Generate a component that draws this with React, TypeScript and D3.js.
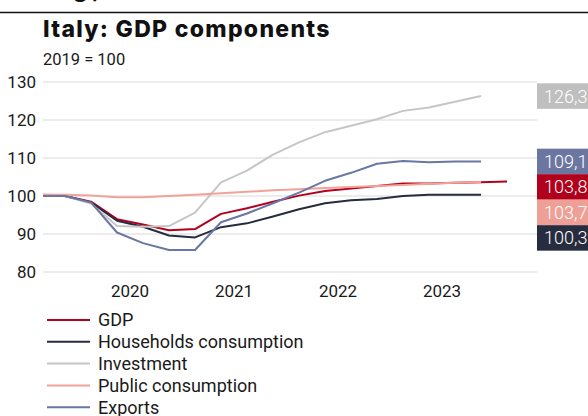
import React from "react";
import * as d3 from "d3";

const quarters = ["2019Q3","2019Q4","2020Q1","2020Q2","2020Q3","2020Q4","2021Q1","2021Q2","2021Q3","2021Q4","2022Q1","2022Q2","2022Q3","2022Q4","2023Q1","2023Q2","2023Q3","2023Q4","2024Q1"];
const yearTicks = ["2020", "2021", "2022", "2023"];
const yTicks = [80, 90, 100, 110, 120, 130];

const seriesNames = ["GDP", "Households consumption", "Investment", "Public consumption", "Exports"];
const gdp = [100, 100, 98.5, 93.9, 92.5, 91.0, 91.3, 95.3, 96.8, 98.5, 100.1, 101.3, 102.0, 102.6, 103.3, 103.3, 103.5, 103.6, 103.8];
const households = [100, 100, 98.3, 93.5, 91.9, 89.6, 89.1, 91.8, 92.8, 94.6, 96.5, 98.1, 98.9, 99.2, 100.0, 100.3, 100.3, 100.3];
const investment = [100, 100, 98.0, 92.1, 91.9, 92.1, 95.6, 103.6, 106.7, 110.9, 114.1, 116.8, 118.5, 120.2, 122.4, 123.3, 124.8, 126.3];
const publicCons = [100.4, 100.3, 100.1, 99.7, 99.7, 100.0, 100.3, 100.7, 101.1, 101.5, 101.8, 102.1, 102.4, 102.6, 102.9, 103.2, 103.5, 103.7];
const exportsS = [100, 100, 98.3, 90.4, 87.6, 85.8, 85.8, 93.1, 95.4, 98.1, 100.9, 104.0, 106.1, 108.5, 109.2, 108.9, 109.1, 109.1];

const lineColors = ["#b3001e", "#262b3f", "#c6c6c6", "#f2a399", "#6a76a3"];
const boxColors = ["#b0001c", "#272c3f", "#bfbfbf", "#eea097", "#6b76a1"];

const W = 588, H = 416;
const plotL = 43, plotR = 537;
const FONT = "Roboto, Lato, sans-serif";

export default function App() {
  const values = [gdp, households, investment, publicCons, exportsS];
  const x = d3.scaleLinear().domain([0, quarters.length - 1]).range([39, 507]);
  const y = d3.scaleLinear().domain([80, 130]).range([272, 82]);
  const line = d3.line<number>().x((_, i) => x(i)).y((d) => y(d));

  const yearPos = yearTicks.map((yr) => {
    const idx = quarters.map((q, i) => (q.startsWith(yr) ? i : -1)).filter((i) => i >= 0);
    return { yr, pos: x(d3.mean(idx) as number) };
  });

  const boxH = 25.5;
  const ends = values
    .map((v, k) => ({ k, v: v[v.length - 1] }))
    .sort((a, b) => b.v - a.v);
  let prevBottom = -Infinity;
  const labels = ends.map((e) => {
    let top = y(e.v) - boxH / 2;
    if (top < prevBottom) top = prevBottom;
    prevBottom = top + boxH;
    return { ...e, top };
  });
  const fmt = (v: number) => d3.format(".1f")(v).replace(".", ",");

  return (
    <svg width={W} height={H} style={{ position: "absolute", left: 0, top: 0, background: "#fff" }} fontFamily={FONT}>
      <defs>
        <clipPath id="plotclip">
          <rect x={plotL} y={0} width={plotR - plotL} height={H} />
        </clipPath>
      </defs>
      <text x={73} y={-3} fontFamily="Inter, sans-serif" fontWeight={800} fontSize={23} fill="#111">g</text>
      <text x={92} y={-3} fontFamily="Inter, sans-serif" fontWeight={800} fontSize={23} fill="#111">,</text>
      <line x1={0} x2={W} y1={12.5} y2={12.5} stroke="#111" strokeWidth={1.4} />
      <text x={43} y={37} fontFamily="Inter, sans-serif" fontWeight={800} fontSize={23} letterSpacing={1.3} fill="#111">Italy: GDP components</text>
      <text x={43} y={65} fontSize={16.5} fill="#1a1a1a">2019 = 100</text>

      {yTicks.map((t) => (
        <g key={t}>
          <line x1={plotL} x2={plotR} y1={y(t)} y2={y(t)} stroke="#d9d9d9" strokeWidth={1} />
          <text x={36} y={y(t)} dy="0.36em" textAnchor="end" fontSize={17} fill="#1a1a1a">{t}</text>
        </g>
      ))}
      {yearPos.map((p) => (
        <text key={p.yr} x={p.pos} y={297} textAnchor="middle" fontSize={17} fill="#1a1a1a">{p.yr}</text>
      ))}

      <g clipPath="url(#plotclip)">
        {values.map((v, k) => (
          <path key={k} d={line(v) as string} fill="none" stroke={lineColors[k]} strokeWidth={2} strokeLinejoin="round" />
        ))}
      </g>

      {labels.map((l) => (
        <g key={l.k}>
          <rect x={537} y={l.top} width={60} height={boxH} fill={boxColors[l.k]} />
          <text x={544} y={l.top + boxH / 2} dy="0.36em" fontSize={18} fontWeight={300} fill="#fff">{fmt(l.v)}</text>
        </g>
      ))}

      {seriesNames.map((n, k) => {
        const ly = 320 + k * 21.8;
        return (
          <g key={n}>
            <line x1={47} x2={90} y1={ly} y2={ly} stroke={lineColors[k]} strokeWidth={2} />
            <text x={98} y={ly} dy="0.36em" fontSize={18} fill="#1a1a1a">{n}</text>
          </g>
        );
      })}
    </svg>
  );
}
